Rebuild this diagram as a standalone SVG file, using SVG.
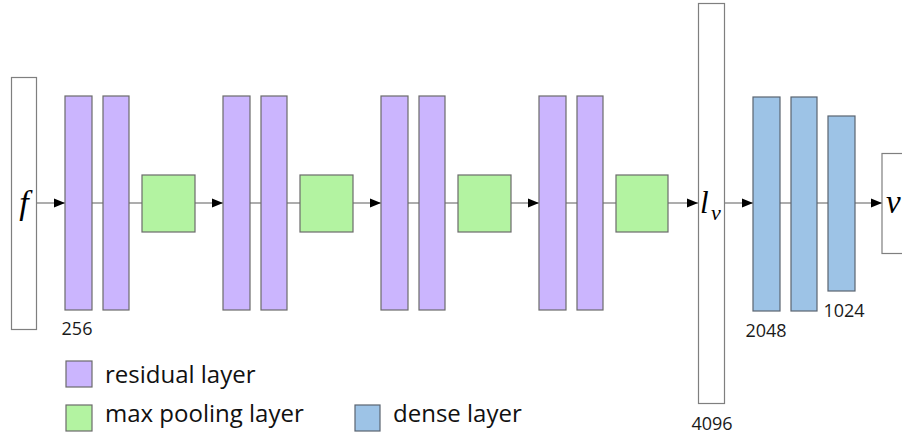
<svg xmlns="http://www.w3.org/2000/svg" width="902" height="437" viewBox="0 0 902 437">
<style>
.res{fill:#cbb5fe;stroke:#6b6b6b;stroke-width:1.2}
.pool{fill:#b3f3a1;stroke:#6b6b6b;stroke-width:1.2}
.dense{fill:#9dc3e6;stroke:#5a6470;stroke-width:1.2}
.io{fill:#ffffff;stroke:#7f7f7f;stroke-width:1.2}
.conn{stroke:#8a8a8a;stroke-width:1.4;fill:none}
.arr{marker-end:url(#ah)}
.num{font-family:"Open Sans","Liberation Sans",sans-serif;font-size:18px;fill:#1a1a1a;text-anchor:middle}
.leg{font-family:"Open Sans","Liberation Sans",sans-serif;font-size:24px;fill:#111}
.math{font-family:"Liberation Serif","DejaVu Serif",serif;font-style:italic;fill:#000}
</style>
<defs>
<marker id="ah" markerUnits="userSpaceOnUse" markerWidth="11" markerHeight="10" refX="11" refY="5" orient="auto">
<path d="M0,0.5 L11,5 L0,9.5 z" fill="#000"/>
</marker>
</defs>
<g id="connectors">
<line class="conn arr" x1="37" y1="203" x2="65" y2="203"/>
<line class="conn" x1="92" y1="203" x2="103" y2="203"/>
<line class="conn" x1="129" y1="203" x2="142" y2="203"/>
<line class="conn arr" x1="195" y1="203" x2="223" y2="203"/>
<line class="conn" x1="250" y1="203" x2="261" y2="203"/>
<line class="conn" x1="287" y1="203" x2="300" y2="203"/>
<line class="conn arr" x1="353" y1="203" x2="381" y2="203"/>
<line class="conn" x1="408" y1="203" x2="419" y2="203"/>
<line class="conn" x1="445" y1="203" x2="458" y2="203"/>
<line class="conn arr" x1="511" y1="203" x2="539" y2="203"/>
<line class="conn" x1="566" y1="203" x2="577" y2="203"/>
<line class="conn" x1="603" y1="203" x2="616" y2="203"/>
<line class="conn arr" x1="668" y1="203" x2="698" y2="203"/>
<line class="conn arr" x1="725" y1="203" x2="753" y2="203"/>
<line class="conn" x1="780" y1="203" x2="791" y2="203"/>
<line class="conn" x1="817" y1="203" x2="828" y2="203"/>
<line class="conn arr" x1="855" y1="203" x2="882" y2="203"/>
</g>
<g id="input"><rect class="io" x="11.5" y="77.5" width="25" height="252"/><text class="math" x="24" y="214" font-size="34" text-anchor="middle">f</text></g>
<g id="res1a"><rect class="res" x="65" y="96" width="27" height="214"/></g>
<g id="res1b"><rect class="res" x="103" y="96" width="26" height="214"/></g>
<g id="pool1"><rect class="pool" x="142" y="175" width="53" height="57"/></g>
<g id="res2a"><rect class="res" x="223" y="96" width="27" height="214"/></g>
<g id="res2b"><rect class="res" x="261" y="96" width="26" height="214"/></g>
<g id="pool2"><rect class="pool" x="300" y="175" width="53" height="57"/></g>
<g id="res3a"><rect class="res" x="381" y="96" width="27" height="214"/></g>
<g id="res3b"><rect class="res" x="419" y="96" width="26" height="214"/></g>
<g id="pool3"><rect class="pool" x="458" y="175" width="53" height="57"/></g>
<g id="res4a"><rect class="res" x="539" y="96" width="27" height="214"/></g>
<g id="res4b"><rect class="res" x="577" y="96" width="26" height="214"/></g>
<g id="pool4"><rect class="pool" x="616" y="175" width="52" height="57"/></g>
<g id="latent"><rect class="io" x="698.5" y="3.5" width="26" height="400"/><text class="math" x="700" y="213" font-size="31">l</text><text class="math" x="711" y="220" font-size="22">v</text></g>
<g id="dense1"><rect class="dense" x="753" y="97" width="27" height="214"/></g>
<g id="dense2"><rect class="dense" x="791" y="97" width="26" height="214"/></g>
<g id="dense3"><rect class="dense" x="828" y="116" width="27" height="175"/></g>
<g id="output"><rect class="io" x="882" y="153.5" width="30" height="100"/><text class="math" x="886" y="213" font-size="33">v</text></g>
<g id="labels">
<text class="num" x="77" y="335">256</text>
<text class="num" x="766" y="337">2048</text>
<text class="num" x="844" y="317">1024</text>
<text class="num" x="712" y="430">4096</text>
</g>
<g id="legend">
<rect class="res" x="66" y="361" width="26" height="26"/>
<text class="leg" x="105" y="383">residual layer</text>
<rect class="pool" x="66" y="405" width="26" height="26"/>
<text class="leg" x="105" y="422">max pooling layer</text>
<rect class="dense" x="355" y="405" width="25" height="26"/>
<text class="leg" x="393" y="422">dense layer</text>
</g>
</svg>
